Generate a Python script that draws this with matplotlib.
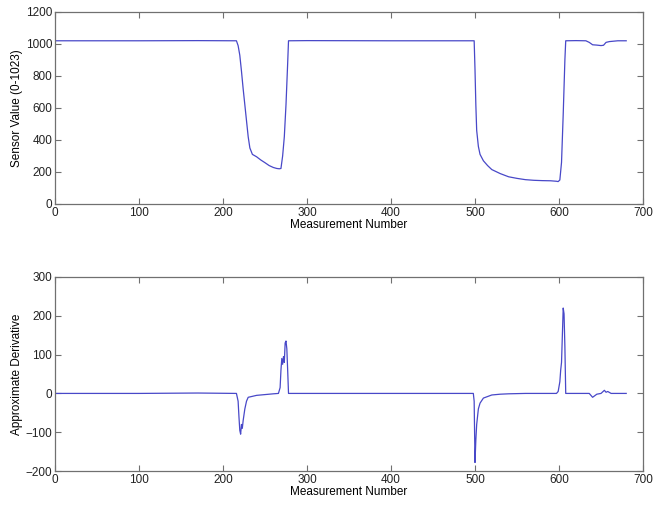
import matplotlib
matplotlib.use("Agg")
from matplotlib import pyplot as plt

plt.rcParams['font.family'] = ['Liberation Sans', 'DejaVu Sans']

# Valores del sensor
sensor_x = [0, 100, 170, 216, 218, 220, 222, 224, 226, 228, 230, 232, 235, 240,
            245, 250, 255, 260, 264, 267, 269, 271, 273, 275, 277, 278, 300,
            400, 499, 500, 501, 502, 504, 506, 510, 515, 520, 530, 540, 550,
            560, 570, 580, 590, 597, 599, 601, 603, 605, 607, 608, 620, 632,
            636, 640, 645, 650, 653, 656, 660, 670, 680]
sensor_y = [1020, 1020, 1021, 1020, 990, 930, 830, 720, 620, 520, 420, 350, 310, 295,
            275, 258, 240, 228, 222, 220, 222, 300, 420, 620, 880, 1020, 1021,
            1020, 1020, 840, 620, 460, 360, 310, 270, 240, 215, 190, 170, 160,
            152, 148, 146, 145, 142, 140, 150, 260, 560, 900, 1020, 1021, 1020,
            1010, 995, 993, 990, 992, 1010, 1015, 1020, 1020]

# Derivada aproximada
deriv_x = [0, 100, 170, 216, 218, 219, 220, 221, 222, 223, 224, 226, 228, 230, 234,
           240, 250, 260, 266, 268, 269, 270, 271, 272, 273, 274, 275, 276, 277,
           278, 300, 400, 498, 499, 500, 501, 502, 504, 506, 510, 515, 520, 530,
           540, 560, 580, 597, 599, 601, 602, 603, 604, 605, 606, 607, 608, 620,
           636, 638, 640, 645, 650, 654, 656, 658, 662, 670, 680]
deriv_y = [0, 0, 1, 0, -20, -60, -95, -105, -80, -90, -70, -40, -20, -10, -8,
           -5, -3, -1, 0, 15, 60, 90, 75, 95, 80, 130, 135, 115, 60,
           0, 0, 0, 0, -20, -178, -120, -80, -40, -25, -12, -8, -4, -2,
           -1, 0, 0, 0, 5, 30, 60, 80, 150, 220, 205, 120, 0, 0,
           0, -5, -10, -2, 0, 8, 3, 5, 0, 0, 0]

line_color = '#4848c8'
frame_color = '#707070'
fs = 8.5

fig = plt.figure(figsize=(6.53, 5.12), dpi=100)
ax1 = fig.add_axes([0.0842, 0.6016, 0.9005, 0.375])
ax2 = fig.add_axes([0.0842, 0.080, 0.9005, 0.379])

ax1.plot(sensor_x, sensor_y, color=line_color, lw=0.9)
ax1.set_xlim(0, 700)
ax1.set_ylim(0, 1200)
ax1.set_xticks(range(0, 701, 100))
ax1.set_yticks(range(0, 1201, 200))
ax1.set_xlabel('Measurement Number', fontsize=fs, labelpad=0)
ax1.set_ylabel('Sensor Value (0-1023)', fontsize=fs, labelpad=2)

ax2.plot(deriv_x, deriv_y, color=line_color, lw=0.9)
ax2.set_xlim(0, 700)
ax2.set_ylim(-200, 300)
ax2.set_xticks(range(0, 701, 100))
ax2.set_yticks(range(-200, 301, 100))
ax2.set_xlabel('Measurement Number', fontsize=fs, labelpad=0)
ax2.set_ylabel('Approximate Derivative', fontsize=fs, labelpad=2)

for ax in (ax1, ax2):
    ax.tick_params(direction='in', top=True, right=True, length=4, width=0.8,
                   color=frame_color, labelsize=fs, labelcolor='#222222', pad=2)
    for s in ax.spines.values():
        s.set_color(frame_color)
        s.set_linewidth(0.9)

fig.savefig('out.png', dpi=100)
